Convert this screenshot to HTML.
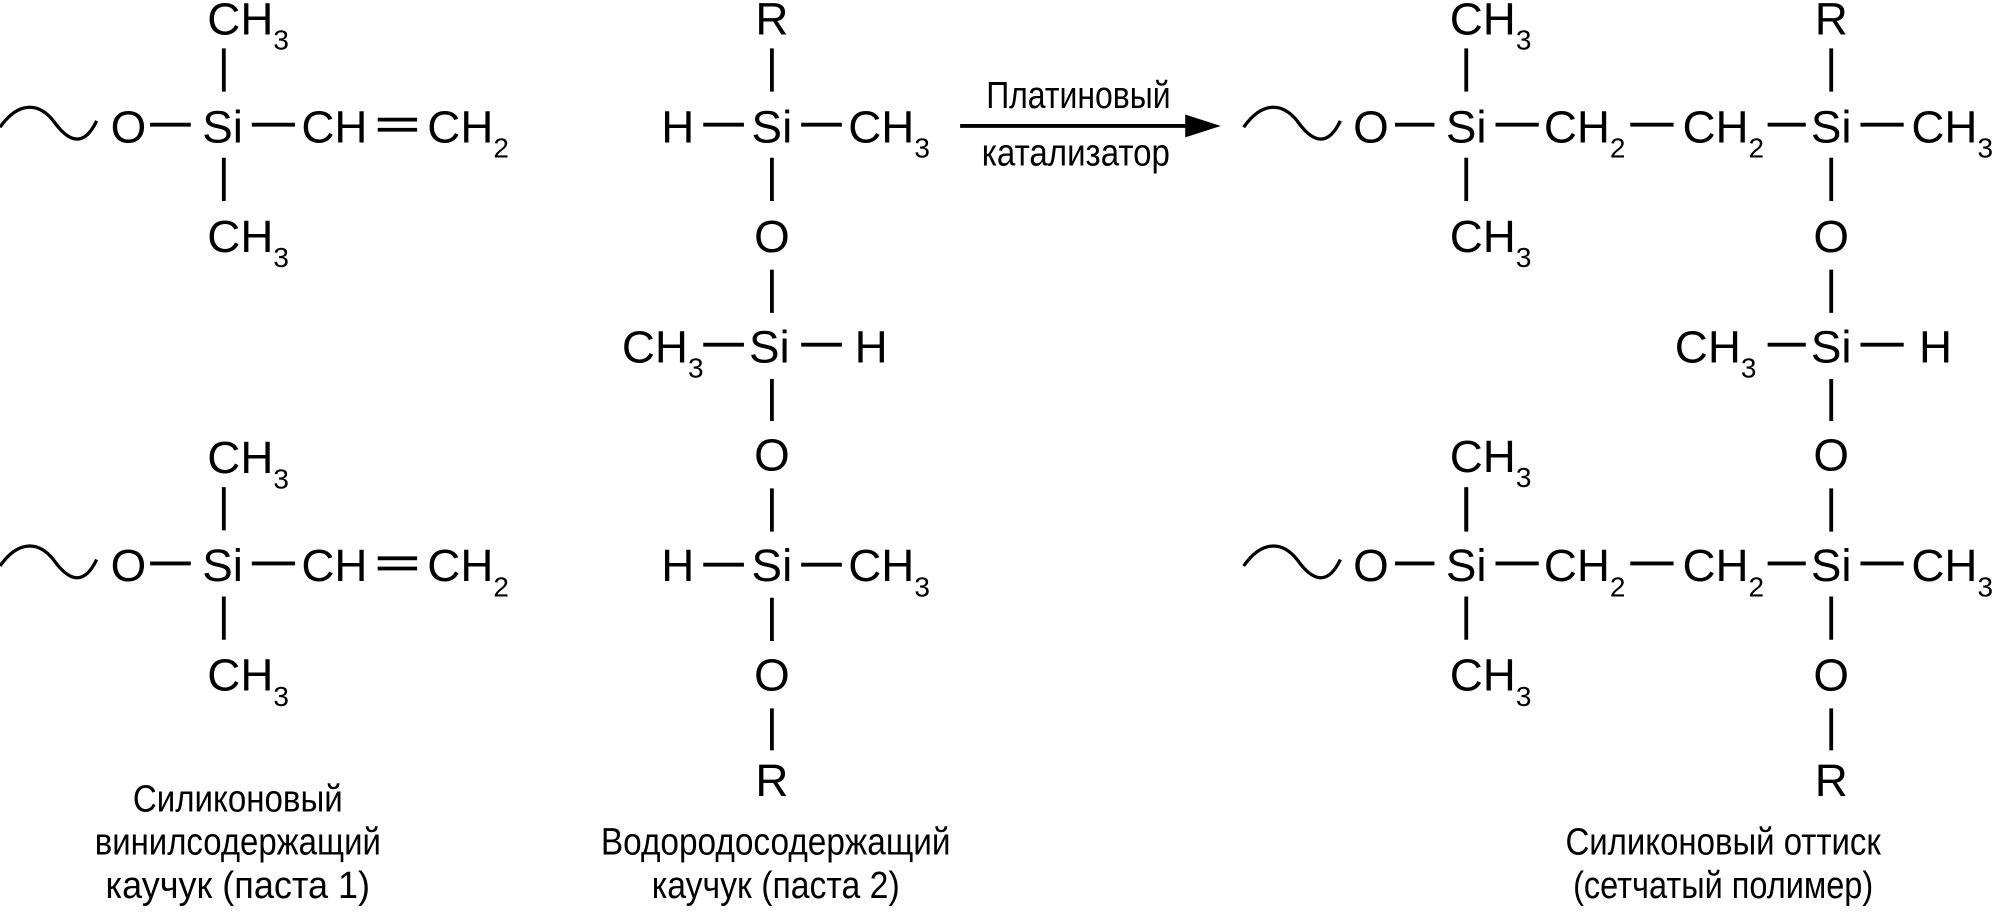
<!DOCTYPE html>
<html><head><meta charset="utf-8"><style>
html,body{margin:0;padding:0;background:#fff;}
svg{display:block;}
text{font-family:"Liberation Sans",sans-serif;fill:#000;}
.m{font-size:36px;}
.l{font-size:30px;}
</style></head><body>
<svg width="1994" height="917" viewBox="0 0 1568 721" xmlns="http://www.w3.org/2000/svg">
<defs>
<g id="vinyl">
  <path d="M0,100 C14,80 30,80 42,95 C54,112 66,116 76,95" fill="none" stroke="#000" stroke-width="2.6"/>
  <text class="m" x="101" y="112" text-anchor="middle">O</text>
  <line x1="118" y1="98" x2="150" y2="98" stroke="#000" stroke-width="3"/>
  <text class="m" x="175" y="112" text-anchor="middle">Si</text>
  <line x1="198" y1="98" x2="232" y2="98" stroke="#000" stroke-width="3"/>
  <text class="m" x="237" y="112">CH</text>
  <line x1="297" y1="94" x2="328" y2="94" stroke="#000" stroke-width="3"/>
  <line x1="297" y1="102" x2="328" y2="102" stroke="#000" stroke-width="3"/>
  <text class="m" x="336" y="112">CH<tspan font-size="22" dy="12">2</tspan></text>
  <text class="m" x="163" y="27">CH<tspan font-size="22" dy="12">3</tspan></text>
  <line x1="176" y1="38" x2="176" y2="72" stroke="#000" stroke-width="3"/>
  <line x1="176" y1="124" x2="176" y2="158" stroke="#000" stroke-width="3"/>
  <text class="m" x="163" y="198">CH<tspan font-size="22" dy="12">3</tspan></text>
</g>
</defs>
<use href="#vinyl"/>
<use href="#vinyl" y="345"/>

<text class="l" x="187" y="638" text-anchor="middle" textLength="165" lengthAdjust="spacingAndGlyphs">Силиконовый</text>
<text class="l" x="187" y="672" text-anchor="middle" textLength="225" lengthAdjust="spacingAndGlyphs">винилсодержащий</text>
<text class="l" x="187" y="706" text-anchor="middle" textLength="208" lengthAdjust="spacingAndGlyphs">каучук (паста 1)</text>

<g stroke="#000" stroke-width="3">
  <line x1="607" y1="38" x2="607" y2="72"/>
  <line x1="553" y1="98" x2="585" y2="98"/>
  <line x1="630" y1="98" x2="662" y2="98"/>
  <line x1="607" y1="124" x2="607" y2="158"/>
  <line x1="607" y1="212" x2="607" y2="246"/>
  <line x1="553" y1="271" x2="585" y2="271"/>
  <line x1="630" y1="271" x2="662" y2="271"/>
  <line x1="607" y1="298" x2="607" y2="331"/>
  <line x1="607" y1="384" x2="607" y2="418"/>
  <line x1="553" y1="444" x2="585" y2="444"/>
  <line x1="630" y1="444" x2="662" y2="444"/>
  <line x1="607" y1="470" x2="607" y2="504"/>
  <line x1="607" y1="557" x2="607" y2="590"/>
</g>
<text class="m" x="607" y="27" text-anchor="middle">R</text>
<text class="m" x="533" y="112" text-anchor="middle">H</text>
<text class="m" x="607" y="112" text-anchor="middle">Si</text>
<text class="m" x="667" y="112">CH<tspan font-size="22" dy="12">3</tspan></text>
<text class="m" x="607" y="198" text-anchor="middle">O</text>
<text class="m" x="489" y="285">CH<tspan font-size="22" dy="12">3</tspan></text>
<text class="m" x="605" y="285" text-anchor="middle">Si</text>
<text class="m" x="685" y="285" text-anchor="middle">H</text>
<text class="m" x="607" y="370" text-anchor="middle">O</text>
<text class="m" x="533" y="457" text-anchor="middle">H</text>
<text class="m" x="607" y="457" text-anchor="middle">Si</text>
<text class="m" x="667" y="457">CH<tspan font-size="22" dy="12">3</tspan></text>
<text class="m" x="607" y="543" text-anchor="middle">O</text>
<text class="m" x="607" y="626" text-anchor="middle">R</text>

<text class="l" x="610" y="672" text-anchor="middle" textLength="275" lengthAdjust="spacingAndGlyphs">Водородосодержащий</text>
<text class="l" x="610" y="706" text-anchor="middle" textLength="195" lengthAdjust="spacingAndGlyphs">каучук (паста 2)</text>

<line x1="755" y1="99" x2="940" y2="99" stroke="#000" stroke-width="3"/>
<polygon points="960,99 932,90 932,108" fill="#000"/>
<text class="l" x="848" y="85" text-anchor="middle" textLength="145" lengthAdjust="spacingAndGlyphs">Платиновый</text>
<text class="l" x="846" y="130" text-anchor="middle" textLength="148" lengthAdjust="spacingAndGlyphs">катализатор</text>

<defs>
<g id="rrow">
  <path d="M978,100 C992,80 1008,80 1020,95 C1032,112 1044,116 1054,95" fill="none" stroke="#000" stroke-width="2.6"/>
  <text class="m" x="1078" y="112" text-anchor="middle">O</text>
  <line x1="1097" y1="98" x2="1128" y2="98" stroke="#000" stroke-width="3"/>
  <text class="m" x="1153" y="112" text-anchor="middle">Si</text>
  <line x1="1176" y1="98" x2="1210" y2="98" stroke="#000" stroke-width="3"/>
  <text class="m" x="1214" y="112">CH<tspan font-size="22" dy="12">2</tspan></text>
  <line x1="1282" y1="98" x2="1316" y2="98" stroke="#000" stroke-width="3"/>
  <text class="m" x="1323" y="112">CH<tspan font-size="22" dy="12">2</tspan></text>
  <line x1="1390" y1="98" x2="1420" y2="98" stroke="#000" stroke-width="3"/>
  <text class="m" x="1440" y="112" text-anchor="middle">Si</text>
  <line x1="1463" y1="98" x2="1497" y2="98" stroke="#000" stroke-width="3"/>
  <text class="m" x="1503" y="112">CH<tspan font-size="22" dy="12">3</tspan></text>
  <line x1="1153" y1="38" x2="1153" y2="72" stroke="#000" stroke-width="3"/>
  <line x1="1153" y1="124" x2="1153" y2="158" stroke="#000" stroke-width="3"/>
  <text class="m" x="1140" y="198">CH<tspan font-size="22" dy="12">3</tspan></text>
  <line x1="1440" y1="124" x2="1440" y2="158" stroke="#000" stroke-width="3"/>
  <text class="m" x="1440" y="198" text-anchor="middle">O</text>
</g>
</defs>
<use href="#rrow"/>
<use href="#rrow" y="345"/>
<text class="m" x="1140" y="27">CH<tspan font-size="22" dy="12">3</tspan></text>
<text class="m" x="1140" y="371">CH<tspan font-size="22" dy="12">3</tspan></text>
<text class="m" x="1440" y="27" text-anchor="middle">R</text>
<g stroke="#000" stroke-width="3">
  <line x1="1440" y1="38" x2="1440" y2="72"/>
  <line x1="1440" y1="212" x2="1440" y2="246"/>
  <line x1="1390" y1="271" x2="1420" y2="271"/>
  <line x1="1463" y1="271" x2="1497" y2="271"/>
  <line x1="1440" y1="298" x2="1440" y2="331"/>
  <line x1="1153" y1="384" x2="1153" y2="418"/>
  <line x1="1440" y1="384" x2="1440" y2="418"/>
  <line x1="1440" y1="557" x2="1440" y2="590"/>
</g>
<text class="m" x="1317" y="285">CH<tspan font-size="22" dy="12">3</tspan></text>
<text class="m" x="1440" y="285" text-anchor="middle">Si</text>
<text class="m" x="1522" y="285" text-anchor="middle">H</text>
<text class="m" x="1440" y="370" text-anchor="middle">O</text>
<text class="m" x="1440" y="626" text-anchor="middle">R</text>

<text class="l" x="1355" y="672" text-anchor="middle" textLength="248" lengthAdjust="spacingAndGlyphs">Силиконовый оттиск</text>
<text class="l" x="1355" y="706" text-anchor="middle" textLength="236" lengthAdjust="spacingAndGlyphs">(сетчатый полимер)</text>
</svg>
</body></html>
